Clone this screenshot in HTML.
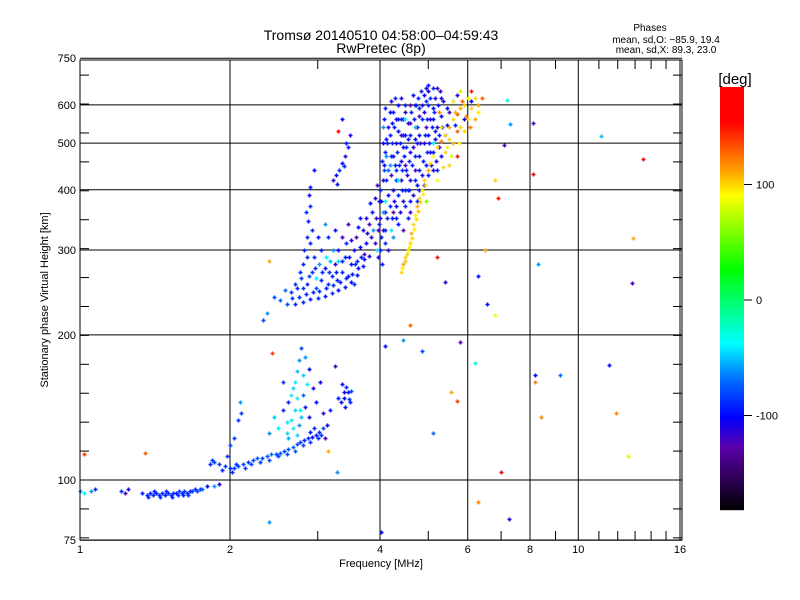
<!DOCTYPE html>
<html><head><meta charset="utf-8"><style>
body{margin:0;background:#fff;}
svg{display:block;font-family:"Liberation Sans","DejaVu Sans",sans-serif;}
</style></head><body>
<svg id="chart" width="800" height="600" viewBox="0 0 800 600" xmlns="http://www.w3.org/2000/svg">
<rect width="800" height="600" fill="#fff"/>
<text x="381" y="40" font-size="14" text-anchor="middle">Tromsø 20140510 04:58:00–04:59:43</text>
<text x="381" y="53" font-size="14" text-anchor="middle">RwPretec (8p)</text>
<text x="650" y="31" font-size="10" text-anchor="middle">Phases</text>
<text x="666" y="43" font-size="10" text-anchor="middle">mean, sd,O: −85.9, 19.4</text>
<text x="666" y="53" font-size="10" text-anchor="middle">mean, sd,X:  89.3, 23.0</text>
<g id="grid"></g>
<g id="points"></g>
<rect x="80" y="60" width="602" height="480" fill="none" stroke="#000" stroke-width="1"/>
<g id="axes"></g>
<text x="381" y="567" font-size="11" text-anchor="middle">Frequency [MHz]</text>
<text transform="translate(48,300) rotate(-90)" font-size="11" text-anchor="middle">Stationary phase Virtual Height [km]</text>
<g id="cbar"></g>
<text x="735" y="84" font-size="15" text-anchor="middle">[deg]</text>
</svg>
<script>
const xTicks=[1,2,4,6,8,10,16];
const xMinor=[3,5,7,9,11,12,13,14,15];
const yTicks=[75,100,200,300,400,500,600,750];
const cbTicks=[100,0,-100];
const eLayer=[[1.0,95,-60],[1.02,94,-40],[1.05,95,-60],[1.07,96,-90],[1.21,95,-90],[1.23,94,-120],[1.25,96,-110],[1.33,94,-95],[1.36,93,-90],[1.38,94,-95],[1.4,93,-90],[1.42,94,-95],[1.44,93,-90],[1.46,94,-90],[1.48,93,-95],[1.5,94,-90],[1.52,93,-85],[1.54,94,-90],[1.56,94,-95],[1.58,95,-85],[1.6,94,-90],[1.62,95,-85],[1.64,94,-90],[1.66,95,-95],[1.68,95,-85],[1.7,96,-90],[1.72,95,-80],[1.74,96,-90],[1.76,96,-70],[1.8,97,-100],[1.86,97,-60],[1.9,98,-110],[1.37,92,-90],[1.41,95,-92],[1.45,92,-88],[1.49,95,-90],[1.53,92,-92],[1.57,93,-88],[1.61,93,-92],[1.65,93,-88]];
const ledge=[[1.82,108,-90],[1.86,109,-80],[1.9,108,-85],[1.95,107,-85],[2.0,106,-90],[2.04,106,-85],[2.08,107,-80],[2.12,108,-80],[2.17,109,-85],[2.22,110,-80],[2.27,111,-75],[2.32,111,-80],[2.37,112,-75],[2.42,113,-70],[2.47,113,-80],[2.52,114,-75],[2.57,115,-80],[2.62,116,-75],[2.67,117,-70],[2.72,119,-80],[2.77,120,-85],[2.82,121,-90],[2.87,122,-90],[2.92,123,-100],[2.97,124,-95],[3.02,126,-90],[3.08,128,-80],[1.97,112,-85],[2.0,118,-80],[2.04,122,-85],[2.08,133,-85],[2.1,138,-85],[2.09,145,-60],[2.4,125,-60],[2.45,135,-50],[2.5,128,-40],[2.55,140,-90],[2.6,125,-45],[2.65,133,-40],[2.65,150,-40],[2.7,140,-45],[2.7,160,-40],[2.73,168,-50],[2.75,177,-60],[2.78,188,-80],[2.8,150,-70],[2.83,142,-95],[2.83,180,-60],[2.88,170,-100],[2.88,135,-100],[2.93,155,-110],[2.98,145,-100],[3.03,160,-105],[3.08,138,-110],[3.13,130,-100],[3.18,140,-95],[2.6,132,-40],[2.75,130,-60],[2.95,128,-90],[3.3,148,-95],[3.34,145,-100],[3.38,152,-110],[3.42,156,-90],[3.46,147,-85],[3.5,153,-80],[3.4,142,-100],[3.36,158,-100],[2.55,160,-85],[2.62,145,-90],[2.68,128,-40],[2.9,126,-95],[3.1,122,-120],
[1.84,110,-85],[1.93,105,-90],[2.02,104,-90],[2.06,108,-85],[2.14,106,-85],[2.2,108,-80],[2.3,109,-85],[2.4,110,-80],[2.5,112,-80],[2.6,113,-80],[2.7,115,-75],[2.8,118,-80],[2.9,120,-85],[3.0,122,-90],[3.05,124,-85],[2.72,124,-45],[2.78,135,-50],[2.72,148,-40],[2.68,155,-45],[2.8,165,-45],[2.85,158,-40],[2.77,140,-30],[2.62,122,-55],[3.38,148,-100],[3.45,152,-95],[3.48,145,-90]];
const fLow=[[2.33,215,-80],[2.37,222,-60],[2.45,240,-80],[2.52,236,-70],[2.6,232,-80],[2.7,232,-90],[2.8,234,-90],[2.9,237,-95],[3.0,239,-90],[3.1,241,-95],[3.2,244,-90],[3.3,248,-100],[3.4,252,-95],[3.5,258,-100],[3.6,266,-100],[3.7,278,-100],[3.8,292,-110],[3.9,310,-120],[3.97,330,-120],
[2.65,245,-85],[2.72,250,-90],[2.78,262,-85],[2.8,280,-90],[2.82,300,-90],[2.85,320,-90],[2.87,345,-95],[2.9,370,-90],[2.88,390,-100],[2.95,440,-100],[2.86,255,-90],[2.92,270,-85],[2.95,290,-90],[2.98,250,-80],[3.05,260,-90],[3.1,275,-100],[3.15,255,-85],[3.2,265,-90],[3.25,280,-110],[3.3,300,-100],[3.35,270,-90],[3.4,290,-95],[3.45,265,-95],[3.5,280,-100],[3.55,300,-105],[3.6,285,-95],[3.65,305,-100],[3.7,330,-110],[3.75,310,-105],[3.8,340,-120],[3.85,360,-100],[3.9,385,-110],[3.95,410,-120],[3.88,330,-60],[3.72,295,-120],[3.58,320,-130],[3.42,310,-90],[3.22,300,-60],[3.12,290,-40],[3.02,280,-60],[2.76,270,-90],[2.7,255,-85],[3.0,320,-100],[3.45,340,-130],[3.65,350,-100],[2.58,248,-70],[3.28,260,-95],[3.55,255,-90],
[3.22,420,-110],[3.27,430,-100],[3.31,440,-90],[3.35,455,-100],[3.4,470,-110],[3.45,490,-100],[3.42,500,-95],[3.48,520,-110],[3.38,448,-90],[3.28,412,-100],[3.36,560,-100],[3.3,530,160],
[2.66,238,-85],[2.75,240,-90],[2.84,243,-92],[2.93,245,-92],[3.02,247,-90],[3.12,250,-95],[3.22,254,-92],[3.32,258,-95],[3.42,262,-92],[3.52,268,-95],[3.62,275,-100],[3.72,288,-100],[2.8,250,-85],[2.88,265,-80],[2.96,275,-90],[3.06,270,-92],[3.16,270,-88],[3.26,270,-95],[3.36,285,-92],[3.46,290,-100],[3.56,280,-90],[3.66,290,-95],[3.76,325,-110],[3.84,320,-110],[2.85,290,-92],[2.9,310,-90],[2.84,360,-90],[2.92,330,-88],[2.9,405,-95],[3.05,300,-95],[3.15,320,-90],[3.25,330,-100],[3.35,320,-120],[3.5,315,-110],[3.62,335,-100],[3.75,350,-110],[3.82,375,-100],[3.92,350,-120],[3.1,340,-60],[2.98,262,-40],[3.18,285,-50],[3.3,285,-45]];
const fHigh=[[4.0,350,-110],[4.02,380,-100],[4.05,420,-110],[4.08,450,-100],[4.1,480,-90],[4.12,510,-100],[4.15,540,-110],[4.18,580,-100],[4.2,610,-110],[4.05,330,-120],[4.1,360,-110],[4.15,390,-100],[4.2,430,-120],[4.25,470,-100],[4.3,500,-110],[4.35,530,-100],[4.3,560,-110],[4.35,600,-100],[4.4,620,-110],[4.25,400,-100],[4.3,440,-90],[4.4,460,-110],[4.45,490,-100],[4.5,520,-110],[4.55,550,-100],[4.5,580,-110],[4.6,600,-130],[4.65,630,-100],[4.4,420,-110],[4.5,450,-120],[4.6,480,-110],[4.7,510,-100],[4.75,540,-110],[4.8,570,-120],[4.85,600,-110],[4.9,630,-100],[4.95,650,-110],[5.0,640,-110],[4.6,420,-110],[4.7,440,-120],[4.8,470,-100],[4.9,500,-110],[5.0,520,-100],[5.05,560,-110],[5.1,590,-100],[5.15,620,-110],[5.2,650,-120],[4.85,430,-110],[4.95,450,-100],[5.05,480,-110],[5.15,510,-100],[5.2,540,-110],[5.3,570,-100],[5.35,610,-110],[4.2,330,-40],[4.3,370,-100],[4.45,380,-110],[4.55,400,-120],[4.75,410,-100],[5.1,440,-110],[5.3,470,-100],[4.1,310,-90],[4.15,300,-110],[4.25,320,-60],[4.35,340,-100],[4.6,380,-100],[5.25,490,-110],[5.4,520,-110],[5.45,545,-100],[5.5,580,-120],[4.12,470,-60],[4.22,550,-100],[4.28,620,-90],[4.45,560,-90],[4.7,600,-100],[5.0,600,-90],[4.95,540,-120],[5.6,610,-100],[5.7,630,-110],[4.05,500,-100],[4.08,440,-80],[3.98,380,-100],[4.18,450,-60],[4.4,520,-120],[4.6,550,-130],[4.8,520,-100],[5.1,560,-100],[5.3,620,-110]];
const fHighDense=[[4.0,300,-100],[4.02,320,-95],[4.0,400,-90],[4.03,460,-95],[4.06,540,-60],[4.08,560,-95],[4.1,590,-95],[4.12,420,-92],[4.14,500,-95],[4.16,440,-70],[4.18,520,-95],[4.2,470,-92],[4.22,500,-90],[4.24,580,-95],[4.26,540,-92],[4.28,450,-95],[4.3,420,-92],[4.32,480,-90],[4.34,560,-95],[4.36,450,-92],[4.38,500,-95],[4.4,560,-95],[4.42,440,-90],[4.44,520,-92],[4.46,470,-95],[4.48,600,-95],[4.5,400,-92],[4.52,490,-90],[4.54,430,-110],[4.56,510,-95],[4.58,460,-92],[4.6,520,-95],[4.62,580,-90],[4.64,450,-95],[4.66,490,-110],[4.68,560,-95],[4.7,470,-92],[4.72,600,-90],[4.74,500,-95],[4.76,620,-92],[4.78,440,-95],[4.8,590,-90],[4.82,500,-120],[4.84,640,-95],[4.86,560,-92],[4.88,460,-95],[4.9,580,-110],[4.92,520,-95],[4.94,610,-90],[4.96,480,-92],[4.98,560,-95],[5.0,660,-95],[5.02,500,-92],[5.04,620,-90],[5.06,450,-110],[5.08,540,-95],[5.1,650,-92],[5.12,480,-95],[5.14,580,-90],[5.16,530,-95],[5.18,460,-110],[5.22,600,-95],[5.26,520,-92],[5.28,640,-110],[5.32,540,-95],[4.05,360,-60],[4.1,330,-92],[4.14,350,-95],[4.18,370,-92],[4.22,350,-95],[4.26,380,-110],[4.3,350,-95],[4.34,390,-92],[4.38,360,-110],[4.42,400,-95],[4.48,370,-92],[4.52,440,-95],[4.58,400,-90],[4.65,390,-110],[4.7,420,-95],[4.8,400,-95],[4.9,410,-110],[5.0,430,-95],[5.2,440,-92],[3.98,340,-95],[3.96,290,-110],[4.03,280,-95],[3.94,300,-40],[4.1,380,-40],[4.35,420,-40],[4.5,560,-40],[4.7,540,-50],[5.1,500,-40],[4.25,360,-130],[4.45,330,-130],[4.6,360,-120],[4.75,380,-90],[4.55,350,-95]];
const yellowBand=[[4.4,270,100],[4.45,280,110],[4.5,290,100],[4.55,300,95],[4.6,310,100],[4.62,325,110],[4.65,340,100],[4.7,355,95],[4.75,370,110],[4.8,385,100],[4.85,400,90],[4.9,420,100],[5.0,440,110],[5.05,455,100],[5.1,470,90],[5.2,490,100],[5.3,505,120],[5.4,520,100],[5.5,540,110],[5.6,560,100],[5.7,575,130],[5.8,590,110],[5.9,600,100],[6.0,620,90],[6.1,590,100],[6.2,560,110],[6.05,540,120],[5.9,530,100],[5.75,500,95],[5.55,470,80],[5.35,445,100],[6.3,600,110],[6.4,620,130],[5.6,610,90],[5.8,640,80],[6.1,640,150],[5.5,450,100],[5.2,420,90],[4.95,380,60],
[4.42,275,95],[4.48,285,105],[4.53,295,100],[4.58,305,95],[4.63,318,100],[4.67,332,95],[4.72,348,100],[4.77,362,105],[4.82,378,100],[4.87,392,95],[4.92,410,100],[5.4,480,100],[5.6,500,110],[5.8,540,100],[6.0,560,95],[5.7,530,130],[5.5,510,100],[5.45,490,95],[5.65,580,110],[5.95,570,120],[6.2,620,100],[6.3,580,95],[5.85,610,130],[5.45,590,-100],[5.65,545,-95],[5.9,560,-110],[6.1,610,-100],[5.3,540,100],[5.25,580,120],[5.7,470,150]];
const outliers=[[1.02,113,140],[1.35,114,130],[2.4,285,110],[2.43,183,140],[2.4,82,-60],[3.15,115,110],[3.25,172,-120],[3.28,104,-60],[4.1,190,-100],[4.02,78,-100],[4.45,195,-60],[4.6,210,130],[4.85,185,-80],[5.1,125,-70],[5.2,290,150],[5.4,257,-110],[5.55,152,110],[5.7,146,140],[5.8,193,-120],[6.3,90,120],[6.3,265,-100],[6.55,232,-100],[6.2,175,-40],[6.8,220,90],[7.0,104,160],[7.2,613,-40],[7.25,83,-110],[7.3,548,-60],[7.1,495,-120],[6.9,385,150],[8.1,550,-120],[8.1,432,160],[8.3,281,-60],[8.2,165,-100],[8.2,160,120],[8.4,135,120],[9.2,165,-70],[11.1,518,-50],[11.5,173,-100],[11.9,138,120],[12.6,112,80],[12.9,318,110],[12.8,256,-120],[13.5,463,170],[6.5,300,110],[6.8,420,100]];
const clusters=[eLayer,ledge,fLow,fHigh,fHighDense,yellowBand,outliers];

const NS='http://www.w3.org/2000/svg';
function xs(f){return 80+150*Math.log2(f);}
function ys(h){return 480-482*Math.log10(h/100);}
function cby(p){return 300-1.155*p;}
function colorOf(p){
  const t=Math.max(0,Math.min(1,(510-cby(p))/423));
  const stops=[[0,0,0,0],[0.15,90,0,170],[0.22,0,0,255],[0.31,0,110,255],[0.395,0,255,255],[0.57,0,255,0],[0.745,255,255,0],[0.81,255,150,0],[0.92,255,0,0],[1,255,0,0]];
  for(let i=1;i<stops.length;i++){if(t<=stops[i][0]){const a=stops[i-1],b=stops[i];const u=(t-a[0])/(b[0]-a[0]);
    return 'rgb('+Math.round(a[1]+u*(b[1]-a[1]))+','+Math.round(a[2]+u*(b[2]-a[2]))+','+Math.round(a[3]+u*(b[3]-a[3]))+')';}}
  return 'rgb(255,0,0)';
}
function mk(tag,attrs,parent){const e=document.createElementNS(NS,tag);for(const k in attrs)e.setAttribute(k,attrs[k]);parent.appendChild(e);return e;}
const grid=document.getElementById('grid'),axes=document.getElementById('axes'),pts=document.getElementById('points'),cbar=document.getElementById('cbar');
xTicks.forEach(f=>{const x=xs(f);
  const l=mk('line',{x1:x,x2:x,y1:60,y2:540,stroke:'#000','stroke-width':1},grid);
  
  
  const t=mk('text',{x:x,y:553,'font-size':11,'text-anchor':'middle'},axes);t.textContent=f;
  
  
});
xMinor.forEach(f=>{const x=xs(f);
  const a=mk('line',{x1:x,x2:x,y1:540,y2:531,stroke:'#000'},axes);
  
  
  const b=mk('line',{x1:x,x2:x,y1:60,y2:69,stroke:'#000'},axes);
  
  
});
yTicks.forEach(h=>{const y=ys(h);
  const l=mk('line',{x1:80,x2:682,y1:y,y2:y,stroke:'#000','stroke-width':1},grid);
  
  
  const t=mk('text',{x:76,y:y+4,'font-size':11,'text-anchor':'end'},axes);t.textContent=h;
  
  
});
for(let k=-2;k<17;k++){const h=100*Math.pow(10,k*0.06);if(h<75||h>750)continue;const y=ys(h);
  const a=mk('line',{x1:80,x2:89,y1:y,y2:y,stroke:'#000'},axes);
  
  
  const b=mk('line',{x1:673,x2:682,y1:y,y2:y,stroke:'#000'},axes);
  
  
}
clusters.forEach(c=>c.forEach(d=>{
  const x=Math.round(xs(d[0]))+0.5,y=Math.round(ys(d[1]))+0.5,col=colorOf(d[2]);
  const p=mk('path',{d:'M'+(x-2)+' '+y+'h4M'+x+' '+(y-2)+'v4',stroke:col,'stroke-width':1.6,fill:'none'},pts);
  
  
}));
for(let y=87;y<510;y++){const p=(300-y)/1.155;
  const r=mk('rect',{x:720,y:y,width:24,height:1.2,fill:colorOf(p)},cbar);
  
  
}
cbTicks.forEach(v=>{const y=cby(v);
  const a=mk('line',{x1:744,x2:752,y1:y,y2:y,stroke:'#000'},cbar);
  
  
  const t=mk('text',{x:756,y:y+4,'font-size':11},cbar);t.textContent=v;
  
  
});
</script>
</body></html>
